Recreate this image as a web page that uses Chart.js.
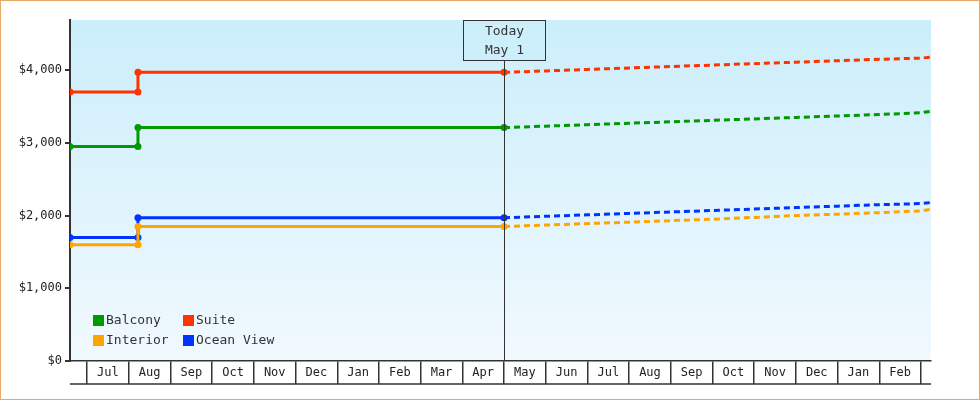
<!DOCTYPE html>
<html><head><meta charset="utf-8">
<script src="https://cdn.jsdelivr.net/npm/chart.js@4"></script>
<style>html,body{margin:0;padding:0;background:#fff}#w{width:978px;height:398px;border:1px solid #e8a868}canvas{display:block}</style>
</head><body><div id="w"><canvas id="c" width="978" height="398"></canvas></div>
<script>
const monthLabels=['Jul','Aug','Sep','Oct','Nov','Dec','Jan','Feb','Mar','Apr','May','Jun','Jul','Aug','Sep','Oct','Nov','Dec','Jan','Feb'];
const yTicks=[0,1000,2000,3000,4000];
// x in months since Jul 1
const pastX=[-0.41,1.22,1.22,10];
const futureX=[10,11,12,13,14,15,16,17,18,19,20,20.24];
const suitePast=[3700,3700,3970,3970];
const balconyPast=[2950,2950,3210,3210];
const oceanPast=[1700,1700,1970,1970];
const interiorPast=[1600,1600,1850,1850];
const suiteFuture=[3970,3990,4010,4030,4050,4070,4090,4110,4130,4150,4165,4180];
const balconyFuture=[3210,3230,3250,3270,3290,3310,3330,3350,3370,3390,3415,3435];
const oceanFuture=[1970,1990,2010,2030,2050,2070,2090,2110,2130,2150,2165,2180];
const interiorFuture=[1850,1870,1890,1910,1930,1950,1975,2000,2020,2040,2065,2085];
const todayX=10;
const series=[
 {name:'Balcony',color:'#009900',past:balconyPast,fut:balconyFuture},
 {name:'Suite',color:'#ff3300',past:suitePast,fut:suiteFuture},
 {name:'Interior',color:'#ffa500',past:interiorPast,fut:interiorFuture},
 {name:'Ocean View',color:'#0033ff',past:oceanPast,fut:oceanFuture}];
const FONT="'DejaVu Sans Mono', monospace";
const datasets=[];
series.forEach(s=>{
 datasets.push({label:s.name,data:pastX.map((x,i)=>({x,y:s.past[i]})),borderColor:s.color,backgroundColor:s.color,borderWidth:3,pointRadius:3.5,pointHoverRadius:3.5,pointBorderWidth:0});
 datasets.push({label:s.name+' f',data:futureX.map((x,i)=>({x,y:s.fut[i]})),borderColor:s.color,backgroundColor:s.color,borderWidth:3,borderDash:[6,4],pointRadius:0});
});
const deco={id:'deco',
 beforeDraw(ch){const {ctx,chartArea:a}=ch;const g=ctx.createLinearGradient(0,a.top,0,a.bottom);g.addColorStop(0,'#cbeefb');g.addColorStop(1,'#f1f9fe');ctx.fillStyle=g;ctx.fillRect(a.left,a.top,a.right-a.left,a.bottom-a.top);},
 afterDraw(ch){const {ctx,chartArea:a}=ch;const xs=ch.scales.x;
  ctx.save();ctx.strokeStyle='#333';ctx.lineWidth=1.5;ctx.beginPath();ctx.moveTo(a.left,a.bottom+23);ctx.lineTo(a.right,a.bottom+23);ctx.stroke();
  const tx=Math.round(xs.getPixelForValue(todayX))+0.5;
  ctx.lineWidth=1;ctx.beginPath();ctx.moveTo(tx,a.top+40);ctx.lineTo(tx,a.bottom);ctx.stroke();
  ctx.fillStyle='#cdeffb';ctx.fillRect(tx-41,a.top,82,40);ctx.strokeRect(tx-41.5+0.5,a.top+0.5,82,40);
  ctx.fillStyle='#333';ctx.font='13px '+FONT;ctx.textAlign='center';ctx.textBaseline='middle';ctx.fillText('Today',tx,a.top+12);ctx.fillText('May 1',tx,a.top+31);
  ctx.textAlign='left';ctx.font='13px '+FONT;
  [[0,0],[1,1],[2,0],[3,1]].forEach((p,i)=>{const s=series[i];const x=a.left+23+p[1]*90;const y=a.bottom-40+(i>=2?20:0);ctx.fillStyle=s.color;ctx.fillRect(x,y-6,11,11);ctx.fillStyle='#333';ctx.fillText(s.name,x+13,y);});
  ctx.restore();}};
new Chart(document.getElementById('c'),{type:'line',data:{datasets},
 options:{responsive:false,animation:false,layout:{padding:{left:0,right:48,top:19,bottom:0}},
  plugins:{legend:{display:false},tooltip:{enabled:false}},
  scales:{
   x:{type:'linear',min:-0.41,max:20.24,afterFit(s){s.height=38;},
    afterBuildTicks(s){const t=[];for(let v=0;v<=20;v+=0.5)t.push({value:v});s.ticks=t;},
    border:{color:'#333',width:1.5},
    grid:{drawOnChartArea:false,tickLength:23,color:c=>(c.tick&&Number.isInteger(c.tick.value))?'#333':'rgba(0,0,0,0)',lineWidth:1.5},
    ticks:{autoSkip:false,maxRotation:0,padding:-18,color:'#222',font:{family:FONT,size:12},callback:v=>Number.isInteger(v)?'':(monthLabels[Math.floor(v)]||'')}},
   y:{min:0,max:4690,afterFit(s){s.width=69;},
    afterBuildTicks(s){s.ticks=yTicks.map(v=>({value:v}));},
    border:{color:'#333',width:2},
    grid:{drawOnChartArea:false,tickLength:5,color:'#333',lineWidth:2},
    ticks:{padding:3,color:'#222',font:{family:FONT,size:12},callback:v=>'$'+v.toLocaleString('en-US')}}}},
 plugins:[deco]});
</script></body></html>
